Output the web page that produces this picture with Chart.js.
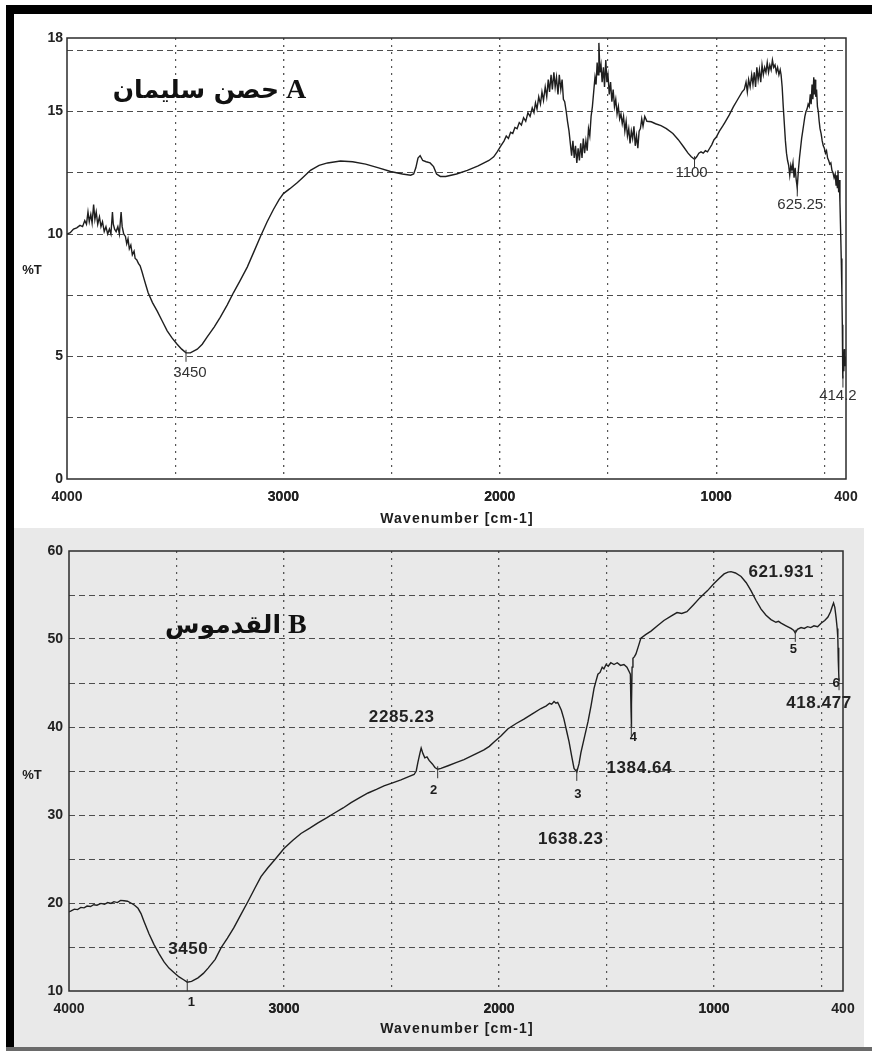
<!DOCTYPE html>
<html>
<head>
<meta charset="utf-8">
<script src="https://cdn.jsdelivr.net/npm/chart.js@4.4.1/dist/chart.umd.min.js"></script>
<style>
  html, body { margin: 0; padding: 0; background: #fff; }
  #page { position: relative; width: 872px; height: 1052px; overflow: hidden; background: #fff; }
  #shadeB { position: absolute; left: 13px; top: 528px; width: 851px; height: 519px; background: #e9e9e9; }
  #barTop { position: absolute; left: 6px; top: 5px; width: 866px; height: 9px; background: #000; }
  #barLeft { position: absolute; left: 6px; top: 5px; width: 8px; height: 1046px; background: #000; }
  #barBottom { position: absolute; left: 6px; top: 1047px; width: 866px; height: 4px; background: #6a6a6a; }
  canvas { position: absolute; left: 0; }
  #chartA { top: 0; }
  #chartB { top: 525px; }
</style>
</head>
<body>
<div id="page">
  <div id="shadeB"></div>
  <canvas id="chartA" width="872" height="530"></canvas>
  <canvas id="chartB" width="872" height="525"></canvas>
  <div id="barTop"></div>
  <div id="barLeft"></div>
  <div id="barBottom"></div>
</div>
<script>
// IR transmission spectra: [wavenumber (cm-1), %T]
const spectrumA = [
  [4000, 10.0], [3985, 10.05], [3970, 10.2], [3955, 10.25], [3940, 10.35], [3928, 10.3], [3918, 10.55],
  [3910, 10.4], [3903, 10.9], [3897, 10.5], [3890, 10.8], [3884, 10.45], [3877, 11.2], [3871, 10.6],
  [3865, 10.9], [3858, 10.4], [3850, 10.7], [3843, 10.3], [3836, 10.5], [3828, 10.1], [3820, 10.3],
  [3812, 10.0], [3804, 10.2], [3797, 10.0], [3790, 10.9], [3786, 10.4], [3780, 10.2], [3773, 10.1],
  [3765, 10.3], [3758, 10.0], [3750, 10.9], [3745, 10.3], [3738, 10.0], [3730, 9.9], [3724, 9.6],
  [3718, 9.8], [3712, 9.4], [3705, 9.55], [3698, 9.15], [3690, 9.3], [3685, 9.0], [3678, 8.95],
  [3670, 8.8], [3662, 8.7], [3653, 8.45], [3645, 8.2], [3635, 7.9], [3625, 7.6], [3605, 7.2],
  [3583, 6.85], [3560, 6.45], [3537, 6.05], [3514, 5.75], [3491, 5.5], [3470, 5.3], [3450, 5.15],
  [3430, 5.15], [3398, 5.3], [3375, 5.5], [3352, 5.8], [3320, 6.2], [3292, 6.6], [3260, 7.1],
  [3231, 7.6], [3200, 8.1], [3167, 8.65], [3135, 9.3], [3106, 9.9], [3075, 10.5], [3046, 11.0],
  [3020, 11.4], [3000, 11.65], [2970, 11.85], [2935, 12.1], [2905, 12.35], [2875, 12.6], [2835, 12.8],
  [2796, 12.9], [2736, 12.98], [2680, 12.95], [2620, 12.85], [2560, 12.7], [2505, 12.55], [2450, 12.45],
  [2412, 12.4], [2398, 12.45], [2388, 12.7], [2378, 13.1], [2368, 13.2], [2356, 13.0], [2340, 12.95],
  [2322, 12.9], [2306, 12.75], [2292, 12.45], [2275, 12.35], [2250, 12.35], [2200, 12.45], [2150, 12.6],
  [2100, 12.78], [2050, 13.0], [2028, 13.15], [2012, 13.35], [1995, 13.6], [1980, 13.8], [1970, 14.0],
  [1960, 13.9], [1950, 14.15], [1940, 14.1], [1930, 14.35], [1920, 14.3], [1910, 14.55], [1900, 14.45],
  [1890, 14.75], [1880, 14.6], [1870, 14.95], [1860, 14.8], [1850, 15.15], [1842, 14.95], [1835, 15.35],
  [1828, 15.1], [1820, 15.6], [1812, 15.3], [1805, 15.8], [1798, 15.45], [1790, 16.0], [1783, 15.6],
  [1776, 16.3], [1770, 15.8], [1763, 16.5], [1757, 15.9], [1750, 16.6], [1744, 16.0], [1738, 16.4],
  [1731, 15.7], [1725, 16.5], [1718, 15.9], [1712, 16.3], [1706, 15.5], [1700, 15.4], [1693, 15.0],
  [1687, 14.6], [1680, 14.2], [1674, 13.7], [1668, 13.2], [1662, 13.8], [1656, 13.1], [1650, 13.6],
  [1644, 12.9], [1638, 13.5], [1632, 13.0], [1626, 13.7], [1620, 13.1], [1614, 13.9], [1608, 13.3],
  [1602, 13.8], [1596, 13.4], [1590, 14.3], [1584, 14.0], [1578, 14.8], [1572, 15.2], [1566, 15.8],
  [1560, 16.4], [1555, 16.1], [1550, 17.0], [1546, 16.5], [1542, 17.8], [1537, 16.6], [1532, 16.9],
  [1527, 16.2], [1521, 16.8], [1516, 16.0], [1510, 17.1], [1505, 16.2], [1500, 16.5], [1494, 15.7],
  [1488, 16.2], [1482, 15.4], [1476, 15.9], [1470, 15.2], [1464, 15.5], [1458, 14.9], [1452, 15.2],
  [1446, 14.7], [1440, 14.9], [1434, 14.5], [1428, 14.8], [1422, 14.2], [1416, 14.6], [1410, 14.0],
  [1404, 14.3], [1398, 13.7], [1392, 14.2], [1386, 13.9], [1380, 14.4], [1374, 13.6], [1368, 14.0],
  [1362, 13.5], [1356, 14.2], [1350, 14.3], [1344, 14.7], [1338, 14.4], [1330, 14.8], [1320, 14.6],
  [1300, 14.58], [1280, 14.5], [1255, 14.42], [1230, 14.3], [1200, 14.1], [1175, 13.85], [1150, 13.55],
  [1130, 13.3], [1115, 13.15], [1100, 13.05], [1090, 13.15], [1080, 13.3], [1070, 13.35], [1060, 13.3],
  [1050, 13.4], [1040, 13.35], [1030, 13.5], [1020, 13.65], [1010, 13.85], [1000, 13.95], [985, 14.2],
  [970, 14.4], [960, 14.55], [940, 14.85], [920, 15.2], [900, 15.5], [880, 15.8], [870, 15.9],
  [862, 16.2], [856, 15.8], [850, 16.3], [843, 16.0], [836, 16.5], [830, 16.1], [824, 16.6],
  [818, 16.0], [812, 16.8], [806, 16.3], [800, 16.7], [794, 16.2], [788, 16.9], [782, 16.5],
  [776, 16.8], [770, 16.6], [764, 17.0], [758, 16.6], [752, 16.9], [746, 16.7], [740, 17.1],
  [734, 16.8], [728, 16.9], [722, 16.6], [716, 16.8], [710, 16.5], [704, 16.7], [700, 16.5],
  [695, 16.0], [690, 15.2], [685, 14.5], [680, 13.8], [675, 13.3], [670, 13.0], [665, 12.8],
  [660, 12.4], [655, 12.8], [650, 12.6], [645, 12.9], [640, 12.3], [635, 12.7], [630, 12.2],
  [625.25, 11.9], [620, 12.6], [615, 13.1], [610, 13.5], [605, 13.9], [600, 14.2], [595, 14.5],
  [590, 14.8], [585, 15.0], [580, 15.1], [575, 15.3], [570, 15.2], [565, 15.7], [561, 15.3],
  [557, 16.1], [553, 15.5], [549, 16.4], [546, 15.7], [543, 16.3], [540, 15.6], [536, 15.9],
  [532, 15.2], [528, 15.0], [524, 14.6], [520, 14.3], [515, 14.1], [510, 13.8], [505, 13.6],
  [500, 13.5], [495, 13.3], [490, 13.4], [485, 13.1], [480, 13.0], [475, 12.85], [470, 12.9],
  [465, 12.6], [460, 12.5], [455, 12.3], [450, 12.45], [446, 12.0], [443, 12.4], [440, 11.9],
  [437, 12.6], [434, 11.7], [431, 12.2], [428, 11.3], [425, 10.2], [422, 9.0], [419, 7.6],
  [417, 6.3], [415.5, 5.2], [414.2, 4.1], [412, 5.0], [410, 4.4], [408, 5.3], [405, 4.6],
  [402, 5.0], [400, 4.6]
];

const spectrumB = [
  [4000, 19.0], [3990, 19.1], [3975, 19.3], [3960, 19.25], [3945, 19.5], [3930, 19.45], [3916, 19.65],
  [3900, 19.6], [3885, 19.8], [3870, 19.75], [3851, 19.95], [3835, 19.85], [3820, 20.05], [3805, 19.95],
  [3791, 20.15], [3775, 20.05], [3760, 20.3], [3744, 20.25], [3728, 20.2], [3712, 20.0], [3695, 19.75],
  [3679, 19.4], [3665, 18.8], [3651, 17.9], [3628, 16.5], [3605, 15.3], [3580, 14.2], [3558, 13.3],
  [3535, 12.6], [3512, 12.1], [3488, 11.6], [3465, 11.25], [3450, 11.0], [3430, 11.1], [3400, 11.5],
  [3375, 12.0], [3353, 12.6], [3320, 13.6], [3293, 14.9], [3263, 16.0], [3233, 17.2], [3200, 18.7],
  [3167, 20.2], [3135, 21.7], [3107, 23.0], [3075, 24.0], [3047, 24.8], [3020, 25.6], [3000, 26.2],
  [2960, 27.1], [2921, 27.9], [2880, 28.5], [2842, 29.1], [2800, 29.7], [2767, 30.2], [2725, 30.8],
  [2688, 31.4], [2650, 31.95], [2609, 32.5], [2570, 32.9], [2535, 33.3], [2495, 33.65], [2456, 34.0],
  [2420, 34.35], [2395, 34.6], [2385, 35.0], [2377, 36.0], [2368, 37.0], [2362, 37.6], [2354, 37.0],
  [2345, 36.5], [2335, 36.6], [2325, 36.2], [2310, 35.8], [2298, 35.4], [2285.23, 35.2], [2270, 35.3],
  [2237, 35.6], [2200, 35.95], [2163, 36.3], [2120, 36.8], [2070, 37.4], [2045, 37.8], [2023, 38.3],
  [1990, 39.0], [1958, 39.8], [1920, 40.4], [1884, 40.9], [1845, 41.5], [1805, 42.1], [1780, 42.4],
  [1765, 42.7], [1755, 42.6], [1744, 42.9], [1735, 42.7], [1727, 42.8], [1721, 42.5], [1710, 41.9],
  [1698, 40.9], [1686, 39.6], [1674, 38.3], [1662, 36.7], [1651, 35.3], [1638.23, 34.9], [1628, 35.8],
  [1619, 37.1], [1602, 38.9], [1586, 40.6], [1572, 42.4], [1558, 44.4], [1548, 45.3], [1540, 46.0],
  [1530, 46.2], [1520, 46.8], [1512, 46.6], [1502, 47.1], [1492, 46.9], [1480, 47.3], [1465, 47.1],
  [1450, 47.3], [1435, 47.0], [1419, 47.1], [1405, 46.8], [1395, 46.3], [1389, 46.0], [1386, 42.0],
  [1384.64, 40.0], [1383, 42.5], [1381, 46.8], [1377, 47.8], [1370, 48.0], [1363, 48.3], [1350, 49.3],
  [1340, 50.1], [1318, 50.5], [1293, 50.9], [1263, 51.5], [1233, 52.1], [1200, 52.6], [1172, 53.0],
  [1150, 52.9], [1126, 53.1], [1095, 53.9], [1065, 54.7], [1030, 55.5], [1000, 56.3], [975, 56.9],
  [953, 57.4], [935, 57.6], [921, 57.65], [900, 57.5], [874, 57.1], [850, 56.4], [828, 55.5],
  [805, 54.4], [781, 53.4], [758, 52.7], [735, 52.2], [712, 51.9], [700, 52.0], [688, 51.8],
  [665, 51.5], [642, 51.2], [630, 51.0], [621.931, 50.7], [612, 51.1], [595, 51.3], [580, 51.2],
  [565, 51.4], [550, 51.3], [535, 51.5], [518, 51.4], [502, 51.8], [485, 52.1], [470, 52.5],
  [458, 53.1], [450, 53.7], [444, 54.1], [438, 53.6], [432, 52.4], [427, 51.2], [424, 50.1],
  [422, 47.6], [420.5, 49.0], [419.5, 46.2], [418.477, 45.2]
];

// axis ticks
const xGridValues = [500, 1000, 1500, 2000, 2500, 3000, 3500];
const xTickLabels = [4000, 3000, 2000, 1000, 400];
const yGridA = [2.5, 5, 7.5, 10, 12.5, 15, 17.5];
const yTickLabelsA = [0, 5, 10, 15, 18];
const yGridB = [15, 20, 25, 30, 35, 40, 45, 50, 55];
const yTickLabelsB = [10, 20, 30, 40, 50, 60];

// peak annotations
const peaksA = ['3450', '1100', '625.25', '414.2'];
const peaksB = ['3450', '2285.23', '1638.23', '1384.64', '621.931', '418.477'];
const peakNumbersB = ['1', '2', '3', '4', '5', '6'];

const titleA = ['A', 'حصن سليمان'];
const titleB = ['B', 'القدموس'];
const xAxisTitle = 'Wavenumber [cm-1]';
const yAxisTitle = '%T';

const SANS = '"Liberation Sans", Arial, sans-serif';

const panelDecor = {
  id: 'panelDecor',
  afterDraw(chart, args, o) {
    const { ctx, chartArea: a, scales: { x, y } } = chart;
    const pts = chart.data.datasets[0].data;
    ctx.save();
    ctx.setLineDash([]);

    // plot frame
    ctx.strokeStyle = '#2b2b2b';
    ctx.lineWidth = 1.5;
    ctx.strokeRect(a.left, a.top, a.right - a.left, a.bottom - a.top);

    // axis titles
    ctx.fillStyle = '#1c1c1c';
    ctx.textAlign = 'center';
    ctx.textBaseline = 'middle';
    ctx.font = 'bold 14px ' + SANS;
    ctx.letterSpacing = '1.2px';
    ctx.fillText(xAxisTitle, 457, a.bottom + o.xTitleDy);
    ctx.letterSpacing = '0px';
    ctx.font = 'bold 13px ' + SANS;
    ctx.fillText(yAxisTitle, 32, o.yTitleY);

    // panel title: latin letter + arabic place name
    ctx.fillStyle = '#111';
    ctx.textBaseline = 'alphabetic';
    ctx.textAlign = 'left';
    ctx.font = 'bold 28px "Liberation Serif", "Times New Roman", serif';
    ctx.fillText(o.title[0], o.titleX, o.titleY);
    ctx.textAlign = 'right';
    ctx.font = 'bold 25px "DejaVu Sans", sans-serif';
    ctx.fillText(o.title[1], o.titleX - 7, o.titleY);

    // peak markers and labels
    ctx.textAlign = 'center';
    ctx.textBaseline = 'middle';
    o.peaks.forEach((label, i) => {
      const wn = parseFloat(label);
      const p = pts.find(d => d.x === wn);
      const px = x.getPixelForValue(wn);
      const py = y.getPixelForValue(p.y);
      ctx.strokeStyle = '#333';
      ctx.lineWidth = 1;
      ctx.beginPath();
      ctx.moveTo(px, py - 3);
      ctx.lineTo(px, py + 9);
      ctx.stroke();
      const off = o.labelOffsets[i];
      ctx.fillStyle = o.labelColor;
      ctx.font = o.labelFont;
      ctx.letterSpacing = o.labelSpacing;
      ctx.fillText(label, px + off[0], py + off[1]);
      ctx.letterSpacing = '0px';
      if (o.numbers) {
        const n = o.numberOffsets[i];
        ctx.fillStyle = '#1c1c1c';
        ctx.font = 'bold 13px ' + SANS;
        ctx.fillText(o.numbers[i], px + n[0], py + n[1]);
      }
    });
    ctx.restore();
  }
};

function makeChart(canvasId, spectrum, cfg) {
  const data = spectrum.map(([w, t]) => ({ x: w, y: t }));
  return new Chart(document.getElementById(canvasId), {
    type: 'line',
    data: {
      datasets: [{
        data,
        borderColor: '#1f1f1f',
        borderWidth: 1.4,
        pointRadius: 0,
        tension: 0,
        fill: false
      }]
    },
    options: {
      responsive: false,
      animation: false,
      events: [],
      layout: { padding: { left: 0, right: cfg.padRight, top: cfg.padTop, bottom: 0 } },
      plugins: {
        legend: { display: false },
        tooltip: { enabled: false },
        panelDecor: cfg.decor
      },
      scales: {
        x: {
          type: 'linear',
          reverse: true,
          min: 400,
          max: 4000,
          afterBuildTicks: s => {
            s.ticks = [...xTickLabels, ...xGridValues].sort((p, q) => p - q).map(v => ({ value: v }));
          },
          afterFit: s => { s.height = cfg.xHeight; },
          ticks: {
            autoSkip: false,
            maxRotation: 0,
            padding: 10,
            color: '#222',
            font: { family: SANS, size: 14, weight: 'bold' },
            callback: v => (xTickLabels.includes(v) ? String(v) : '')
          },
          grid: {
            drawTicks: false,
            lineWidth: 1.2,
            color: c => (xGridValues.includes(c.tick.value) ? '#555' : 'rgba(0,0,0,0)')
          },
          border: { display: false, dash: [2, 5] }
        },
        y: {
          type: 'linear',
          min: cfg.yMin,
          max: cfg.yMax,
          afterBuildTicks: s => {
            const all = Array.from(new Set([...cfg.yLabels, ...cfg.yGrid])).sort((p, q) => p - q);
            s.ticks = all.map(v => ({ value: v }));
          },
          afterFit: s => { s.width = cfg.yWidth; },
          ticks: {
            autoSkip: false,
            padding: cfg.yPad,
            color: '#222',
            font: { family: SANS, size: 14, weight: 'bold' },
            callback: v => (cfg.yLabels.includes(v) ? String(v) : '')
          },
          grid: {
            drawTicks: false,
            lineWidth: 1,
            color: c => (cfg.yGrid.includes(c.tick.value) ? '#4d4d4d' : 'rgba(0,0,0,0)')
          },
          border: { display: false, dash: [6, 4] }
        }
      }
    },
    plugins: [panelDecor]
  });
}

makeChart('chartA', spectrumA, {
  padRight: 26, padTop: 38, xHeight: 51, yWidth: 67, yPad: 4,
  yMin: 0, yMax: 18, yGrid: yGridA, yLabels: yTickLabelsA,
  decor: {
    xTitleDy: 40, yTitleY: 270,
    title: titleA, titleX: 286, titleY: 98,
    peaks: peaksA,
    labelOffsets: [[4, 20], [-3, 14], [3, 17], [-5, 17]],
    labelFont: '15px ' + SANS, labelColor: '#333', labelSpacing: '0px'
  }
});

makeChart('chartB', spectrumB, {
  padRight: 29, padTop: 26, xHeight: 59, yWidth: 69, yPad: 6,
  yMin: 10, yMax: 60, yGrid: yGridB, yLabels: yTickLabelsB,
  decor: {
    xTitleDy: 38, yTitleY: 250,
    title: titleB, titleX: 288, titleY: 108,
    peaks: peaksB,
    labelOffsets: [[1, -33], [-36, -52], [-6, 67], [8, 41], [-14, -61], [-20, 22]],
    labelFont: 'bold 17px ' + SANS, labelColor: '#222', labelSpacing: '0.6px',
    numbers: peakNumbersB,
    numberOffsets: [[4, 20], [-4, 21], [1, 23], [2, 10], [-2, 17], [-3, 2]]
  }
});
</script>
</body>
</html>
